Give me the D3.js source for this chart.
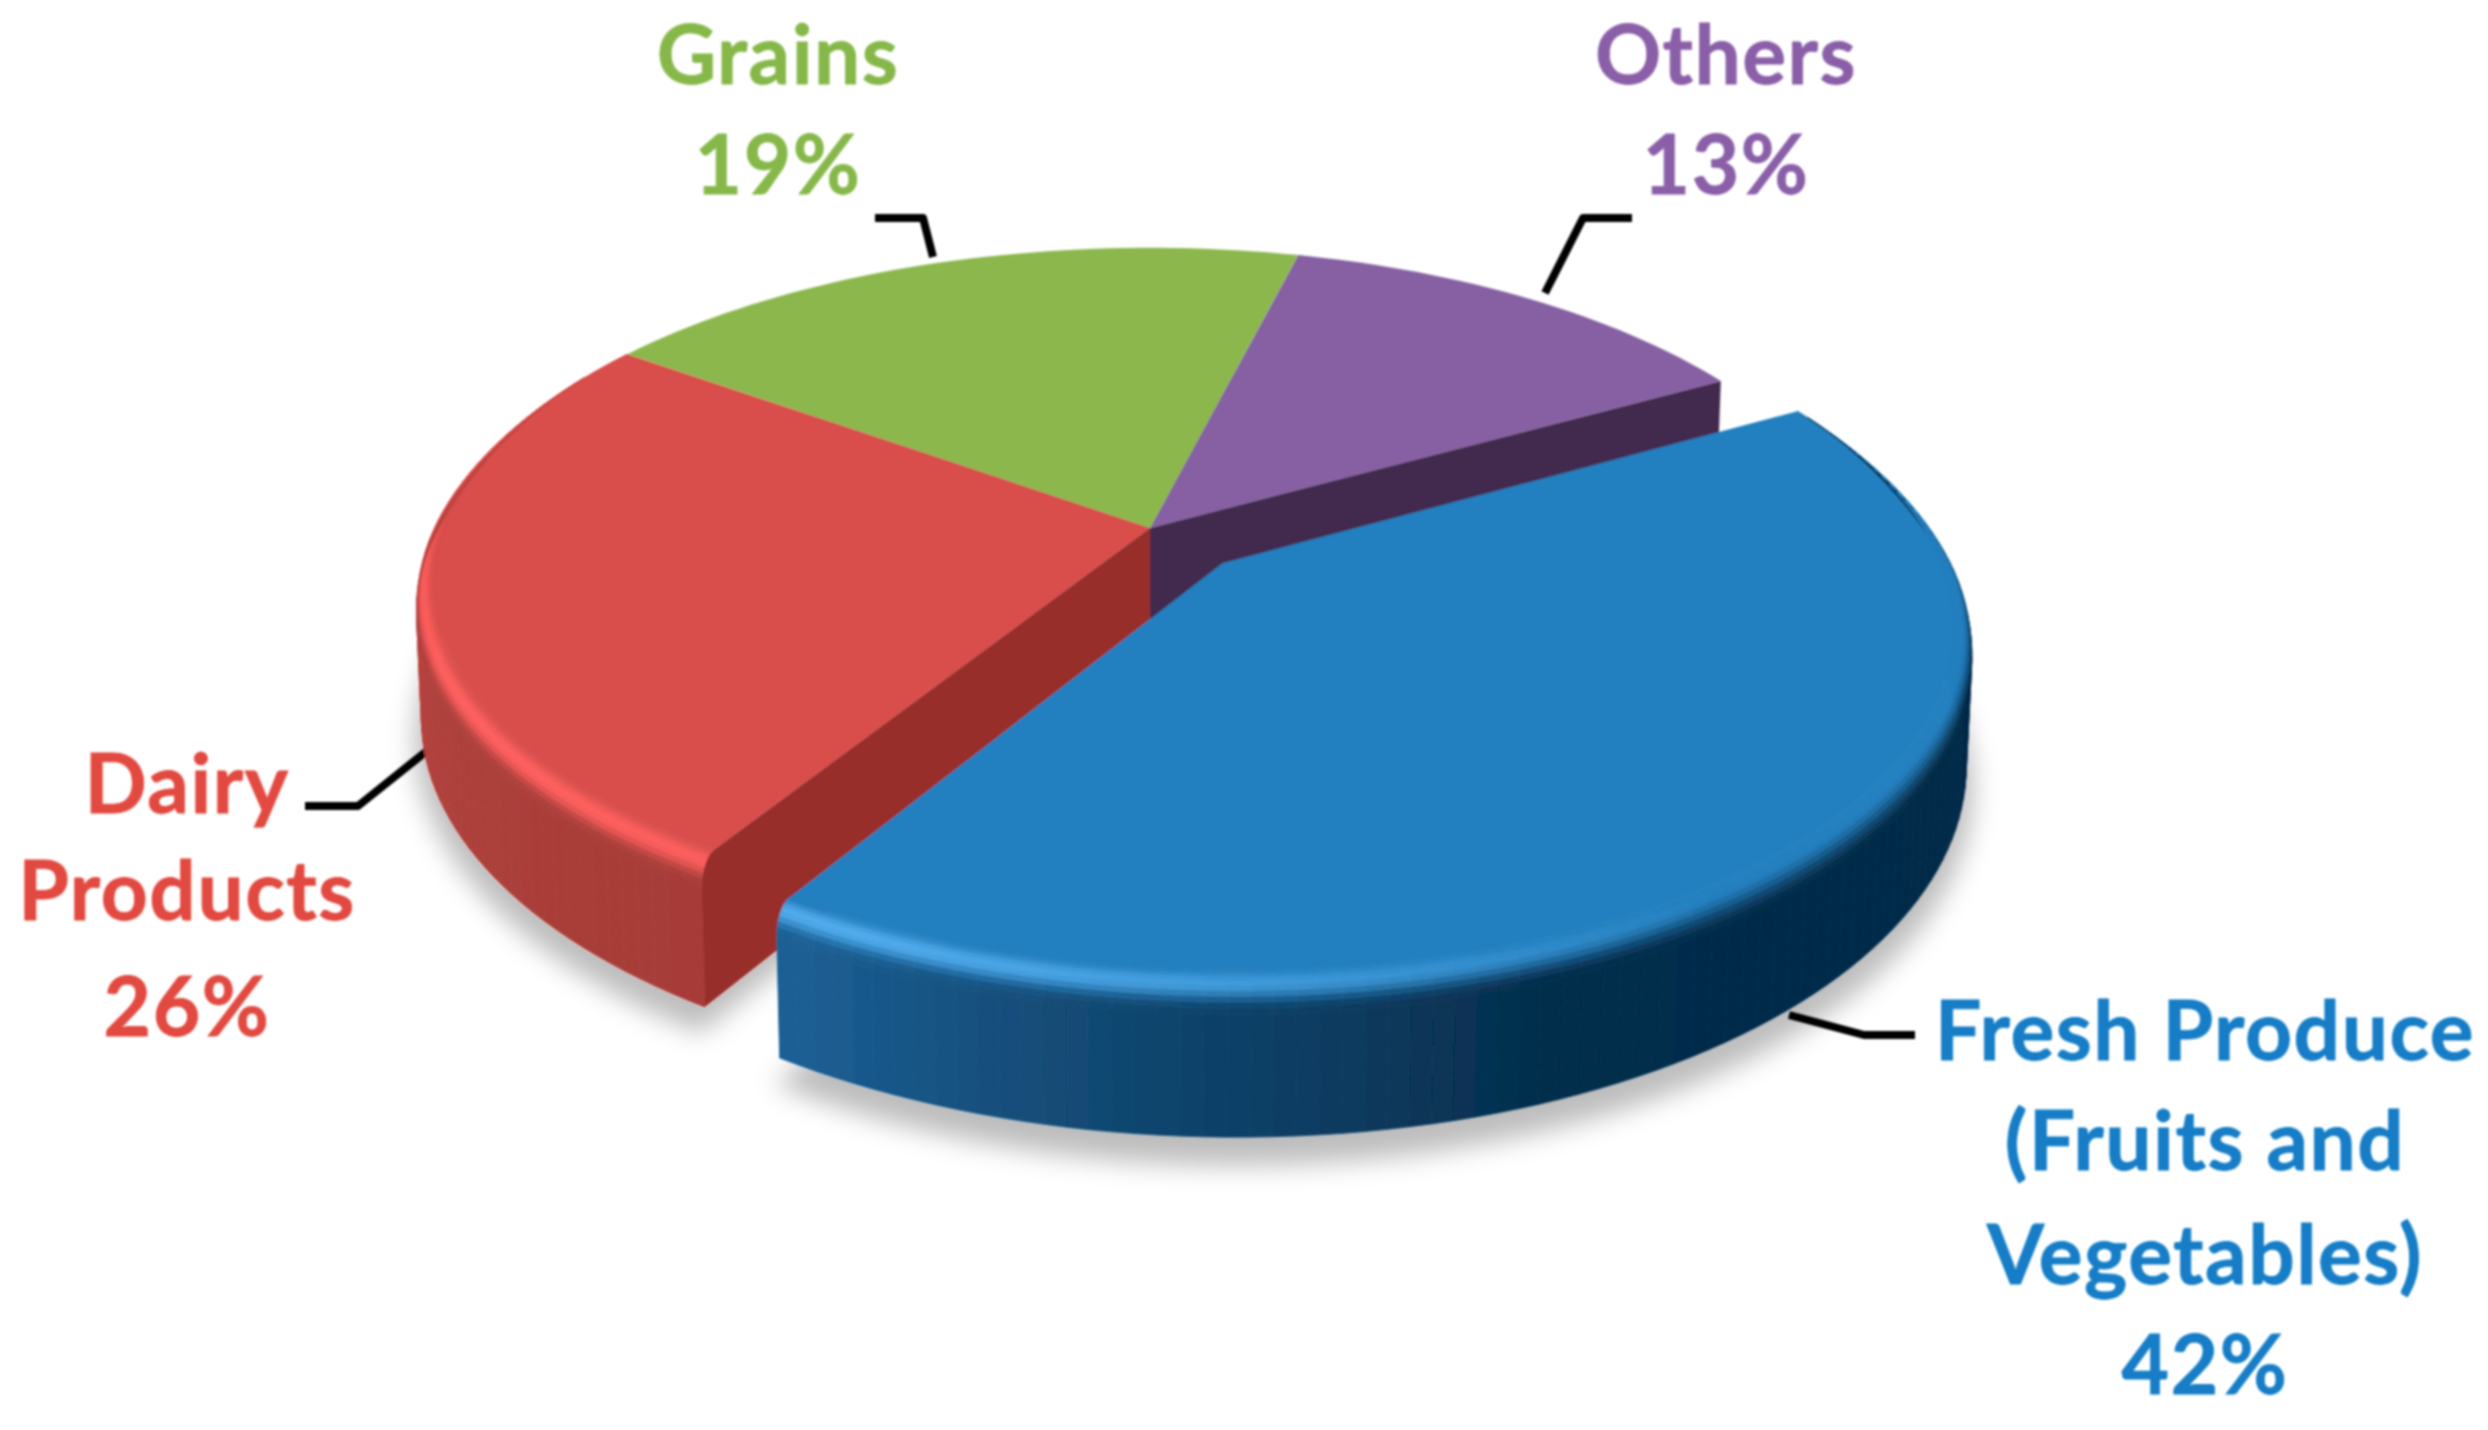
<!DOCTYPE html>
<html>
<head>
<meta charset="utf-8">
<script src="https://cdn.jsdelivr.net/npm/d3@7"></script>
<style>
  html, body { margin: 0; background: #fff; }
  text { font-family: Lato, "Open Sans", sans-serif; font-weight: 700; text-anchor: middle; letter-spacing: 1.5px; stroke-width: 0.8px; }
</style>
</head>
<body>
<div id="chart"></div>
<script>
var categories = ["Fresh Produce (Fruits and Vegetables)", "Dairy Products", "Grains", "Others"];
var values = [42, 26, 19, 13];
var percentLabels = ["42%", "26%", "19%", "13%"];
var labelLines = [["Fresh Produce", "(Fruits and", "Vegetables)"], ["Dairy", "Products"], ["Grains"], ["Others"]];
var faceColors = ["#2380c0", "#d94e4b", "#8cb74e", "#8660a2"];
var textColors = ["#127dc6", "#e2483f", "#86b84a", "#8a5fa8"];
var cutColors = [null, "#982f2c", null, "#42294f"];
var highlightColors = ["#55b0f2", "#ff5f5e", null, null];

// wall colours by angle round the pie, degrees clockwise from the top
var blueWall = d3.scaleLinear().domain([75, 120, 159, 174, 189, 213])
    .range(["#04294a", "#042b47", "#052d4c", "#0a3b60", "#114872", "#1d6197"]);
var redWall = d3.scaleLinear().domain([212, 240, 270, 300])
    .range(["#a63b37", "#ad403b", "#b8433f", "#c04644"]);
var wallScales = [blueWall, redWall, null, null];

// layout of the labels, centre x and first baseline, with leader line
var labelX = [2205, 187, 778, 1726];
var labelBaselines = [[1060, 1170, 1284, 1394], [813, 920, 1036], [84, 194], [84, 194]];
var leaders = [
    [[1789, 1015], [1864, 1035], [1915, 1035]],
    [[305, 806], [358, 806], [428, 750]],
    [[875, 218], [923, 218], [933, 257]],
    [[1632, 218], [1583, 218], [1545, 293]]
];

var width = 2488, height = 1430;
var fontSize = 82;

// perspective view of the pie
var cx = 1150, cy = 528, A = 724, B = 335, D = 130, k = 0.17, m = 0.008;
var explode = 0.143;
var startDeg = 60.9;
var rad = Math.PI / 180;
var rInner = 0.975;

var pie = d3.pie().sort(null)
    .startAngle(startDeg * rad)
    .endAngle(startDeg * rad + 2 * Math.PI);
var slices = pie(values);

function project(theta, r, z, off) {
    var u = r * Math.sin(theta) + off[0],
        v = r * Math.cos(theta) + off[1],
        d = 1 + k * v + m * z;
    return [cx + A * u / d, cy + (-B * v + D * z) / d];
}

function smooth(t) {
    t = Math.max(0, Math.min(1, t));
    return t * t * (3 - 2 * t);
}

// how much rounded rim there is at an angle, none on the far side
function bevel(theta) {
    var deg = ((theta / rad) % 360 + 360) % 360;
    if (deg < 180) return smooth((deg - 62) / 30);
    return 1 - smooth((deg - 268) / 32);
}
function rimPoint(theta, t, off) {
    var b = bevel(theta),
        r = rInner + (1 - rInner) * b * Math.sin(t * Math.PI / 2),
        z = 0.2 * b * (1 - Math.cos(t * Math.PI / 2));
    return project(theta, r, z, off);
}

function anglesOf(s, step) {
    var n = Math.ceil((s.endAngle - s.startAngle) / step);
    return d3.range(n + 1).map(function(i) { return s.startAngle + (s.endAngle - s.startAngle) * i / n; });
}

var line = d3.line();
var closedPath = function(pts) { return line(pts) + "Z"; };

var svg = d3.select("#chart").append("svg")
    .attr("width", width)
    .attr("height", height);

var defs = svg.append("defs");
defs.append("filter").attr("id", "soft")
    .attr("filterUnits", "userSpaceOnUse")
    .attr("x", 0).attr("y", 0).attr("width", width).attr("height", height)
    .append("feGaussianBlur").attr("stdDeviation", 0.9);
defs.append("filter").attr("id", "shadow")
    .attr("filterUnits", "userSpaceOnUse")
    .attr("x", 0).attr("y", 0).attr("width", width).attr("height", height)
    .append("feGaussianBlur").attr("stdDeviation", 13);

var root = svg.append("g").attr("filter", "url(#soft)");

function offsetOf(s) {
    var mid = (s.startAngle + s.endAngle) / 2,
        e = s.index === 0 ? explode : 0;
    return [e * Math.sin(mid), e * Math.cos(mid)];
}

// soft shadow under the pie
root.append("g").attr("filter", "url(#shadow)")
    .selectAll("path").data(slices).join("path")
    .attr("d", function(s) {
        var off = offsetOf(s),
            pts = anglesOf(s, 2 * rad).map(function(a) { return project(a, 1.01, 1.15, off); });
        pts.unshift(project(0, 0, 1.15, off));
        return closedPath(pts);
    })
    .attr("fill", "#000")
    .attr("opacity", 0.26);

// leader lines
root.append("g").selectAll("path").data(leaders).join("path")
    .attr("d", line)
    .attr("fill", "none")
    .attr("stroke", "#000")
    .attr("stroke-width", 8)
    .attr("stroke-linejoin", "round");

// far slices first, the pulled out blue one last
var drawOrder = [3, 2, 1, 0];
var step = 1.5 * rad;

drawOrder.forEach(function(i) {
    var s = slices[i],
        off = offsetOf(s),
        g = root.append("g").attr("class", "slice"),
        angles = anglesOf(s, step);

    // flat cut face looking at the camera
    if (cutColors[i]) {
        var a = i === 1 ? s.startAngle : s.endAngle,
            cut = [project(a, 0, 0, off)];
        d3.range(0, 1.01, 0.1).forEach(function(t) { cut.push(rimPoint(a, t, off)); });
        cut.push(project(a, rInner + (1 - rInner) * bevel(a), 1, off));
        cut.push(project(a, 0, 1, off));
        g.append("path").attr("d", closedPath(cut)).attr("fill", cutColors[i]);
    }

    // outer wall
    var wall = wallScales[i];
    if (wall) {
        d3.pairs(angles).forEach(function(p) {
            var c = wall(((p[0] + p[1]) / 2 / rad + 360) % 360);
            g.append("path")
                .attr("d", closedPath([rimPoint(p[0], 1, off), rimPoint(p[1], 1, off),
                    project(p[1], rInner + (1 - rInner) * bevel(p[1]), 1, off),
                    project(p[0], rInner + (1 - rInner) * bevel(p[0]), 1, off)]))
                .attr("fill", c).attr("stroke", c).attr("stroke-width", 0.8);
        });
    }

    // top of the slice
    var topFace = angles.map(function(a) { return rimPoint(a, 0, off); });
    topFace.unshift(project(0, 0, 0, off));
    g.append("path").attr("d", closedPath(topFace)).attr("fill", faceColors[i]);

    // rounded rim between the top and the wall
    if (wall) {
        var rings = d3.range(0, 1.001, 1 / 9);
        d3.pairs(angles).forEach(function(p) {
            var mid = (p[0] + p[1]) / 2;
            if (bevel(mid) <= 0) return;
            var light = Math.max(0, Math.cos(mid - 235 * rad)),
                wc = wall(((mid / rad) + 360) % 360);
            d3.pairs(rings).forEach(function(r) {
                var t = (r[0] + r[1]) / 2,
                    base = d3.interpolateRgb(faceColors[i], wc)(smooth((t - 0.3) / 0.7)),
                    bump = Math.pow(Math.sin(Math.PI * Math.min(1, t * 1.2)), 2),
                    c = d3.interpolateRgb(base, highlightColors[i])(light * bump);
                g.append("path")
                    .attr("d", closedPath([rimPoint(p[0], r[0], off), rimPoint(p[1], r[0], off),
                        rimPoint(p[1], r[1], off), rimPoint(p[0], r[1], off)]))
                    .attr("fill", c).attr("stroke", c).attr("stroke-width", 0.6);
            });
        });
    }
});

// labels
categories.forEach(function(name, i) {
    var lines = labelLines[i].concat([percentLabels[i]]);
    root.append("g").attr("class", "label").selectAll("text").data(lines).join("text")
        .attr("x", labelX[i])
        .attr("y", function(d, j) { return labelBaselines[i][j]; })
        .attr("font-size", fontSize)
        .attr("fill", textColors[i])
        .attr("stroke", textColors[i])
        .text(function(d) { return d; });
});
</script>
</body>
</html>
